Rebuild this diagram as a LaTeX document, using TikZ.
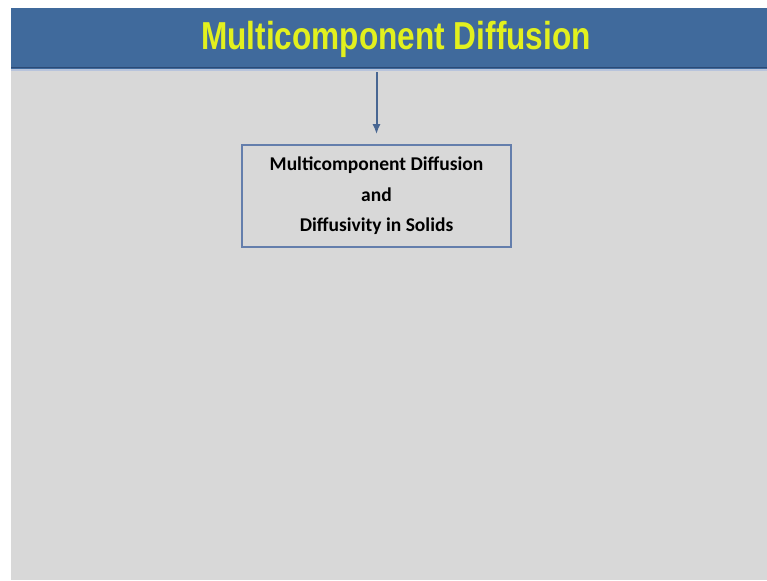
\documentclass[tikz,border=0pt]{standalone}
\usepackage{fontspec}
\setmainfont{Liberation Sans}
\newfontfamily\boxfont{Carlito}
\usepackage{tikz}
\usetikzlibrary{arrows.meta,positioning,calc}
\definecolor{bandblue}{RGB}{64,106,156}
\definecolor{bandedge}{RGB}{44,74,118}
\definecolor{bandlight}{RGB}{184,196,220}
\definecolor{slidegray}{RGB}{216,216,216}
\definecolor{titleyellow}{RGB}{226,240,30}
\definecolor{linkblue}{RGB}{72,102,146}
\definecolor{boxblue}{RGB}{100,126,172}
\tikzset{
  topicbox/.style={draw=boxblue, line width=1.5pt, fill=slidegray, align=center,
    minimum width=269pt, minimum height=102pt, inner sep=0pt,
    font=\boxfont\bfseries\fontsize{19.5}{30.5}\selectfont}
}

\begin{document}
\begin{tikzpicture}[x=1pt,y=1pt]
    \useasboundingbox (0,0) rectangle (767,580);
    \fill [slidegray] (11,0) rectangle (767,511);
    \fill [bandblue] (11,511) rectangle (767,572);
    \draw [bandedge, line width=1.5pt] (11,512.5) -- (767,512.5);
    \draw [bandlight, line width=1.5pt] (11,510) -- (767,510);
    \node [anchor=base, text=titleyellow, inner sep=0pt,
      font=\bfseries\fontsize{39}{39}\selectfont] (title) at (396,530)
      {\scalebox{0.81}[1]{Multicomponent Diffusion}};
    \node [topicbox] (mcd) at (376.5,384) {Multicomponent Diffusion\\and\\Diffusivity in Solids};
    \coordinate (top) at (376.5,507.5);
    \draw [-{Latex[length=10pt,width=8pt]}, linkblue, line width=2pt, shorten >=10pt] (top) -- (mcd.north);
\end{tikzpicture}
\end{document}
